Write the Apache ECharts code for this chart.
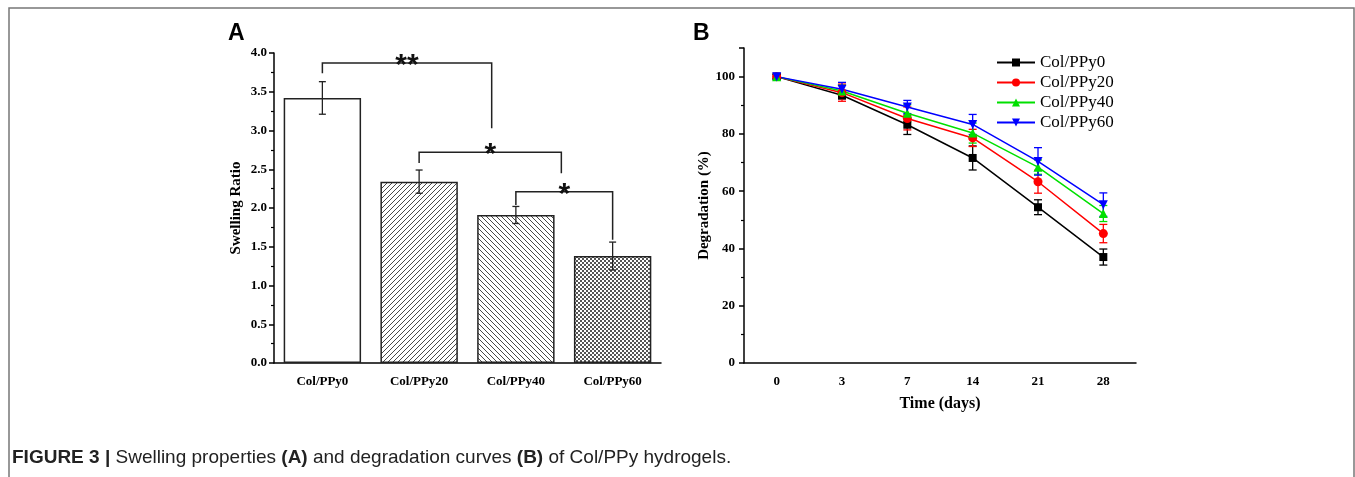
<!DOCTYPE html>
<html>
<head>
<meta charset="utf-8">
<script src="https://cdn.jsdelivr.net/npm/echarts@6/dist/echarts.min.js"></script>
<style>
  html, body { margin: 0; padding: 0; background: #fff; }
  #demo { width: 1355px; height: 477px; }
</style>
</head>
<body>
<div id="demo"></div>
<script>
// panel A: swelling ratio
var groups = ['Col/PPy0', 'Col/PPy20', 'Col/PPy40', 'Col/PPy60'];
var swelling = [3.42, 2.34, 1.91, 1.38];
var swellingErr = [0.21, 0.15, 0.11, 0.18];

// significance brackets: from/to category, bar level, left/right leg ends
var sigFrom = [0, 1, 2];
var sigTo = [1.75, 2.47, 3];
var sigLevel = [3.87, 2.72, 2.21];
var sigLeftEnd = [3.74, 2.58, 2.04];
var sigRightEnd = [3.03, 2.45, 1.59];
var sigText = ['**', '*', '*'];

// panel B: degradation
var days = ['0', '3', '7', '14', '21', '28'];
var names = ['Col/PPy0', 'Col/PPy20', 'Col/PPy40', 'Col/PPy60'];
var ppy0 = [100, 93.5, 83.2, 71.6, 54.4, 37.0];
var ppy0Err = [0.8, 1.3, 3.4, 4.2, 2.6, 2.8];
var ppy20 = [100, 94.4, 85.4, 78.6, 63.3, 45.2];
var ppy20Err = [0.8, 3.0, 4.0, 3.0, 4.0, 3.2];
var ppy40 = [100, 95.0, 87.2, 80.3, 68.4, 52.2];
var ppy40Err = [0.8, 2.0, 3.0, 3.5, 2.5, 2.8];
var ppy60 = [100, 95.6, 89.4, 83.3, 70.4, 55.3];
var ppy60Err = [0.8, 2.4, 2.3, 3.5, 4.8, 4.1];

var colors = ['#000000', '#ff0000', '#00e000', '#0000ff'];
var symbols = ['rect', 'circle', 'triangle', 'triangle'];
var rotates = [0, 0, 0, 180];

var serif = '"Liberation Serif", "Times New Roman", serif';
var sans = '"Liberation Sans", Arial, sans-serif';

// hatch patterns for the bars
function makePattern(kind) {
    var c = document.createElement('canvas');
    var s = kind == 'check' ? 4 : 5;
    c.width = s; c.height = s;
    var g = c.getContext('2d');
    g.fillStyle = '#fff';
    g.fillRect(0, 0, s, s);
    if (kind == 'check') {
        g.fillStyle = '#555';
        g.fillRect(0, 0, 2, 2);
        g.fillRect(2, 2, 2, 2);
        return c;
    }
    g.strokeStyle = '#333';
    g.lineWidth = 0.9;
    g.beginPath();
    if (kind == 'fwd') {
        g.moveTo(-1, s + 1); g.lineTo(s + 1, -1);
        g.moveTo(-1, 1); g.lineTo(1, -1);
        g.moveTo(s - 1, s + 1); g.lineTo(s + 1, s - 1);
    } else {
        g.moveTo(-1, -1); g.lineTo(s + 1, s + 1);
        g.moveTo(s - 1, -1); g.lineTo(s + 1, 1);
        g.moveTo(-1, s - 1); g.lineTo(1, s + 1);
    }
    g.stroke();
    return c;
}
var fills = ['#ffffff', {image: makePattern('fwd'), repeat: 'repeat'},
             {image: makePattern('back'), repeat: 'repeat'},
             {image: makePattern('check'), repeat: 'repeat'}];

function errRender(color, capW) {
    return function (params, api) {
        var x = api.value(0);
        var lo = api.coord([x, api.value(1)]);
        var hi = api.coord([x, api.value(2)]);
        var st = {stroke: color, lineWidth: 1.3};
        return {type: 'group', children: [
            {type: 'line', shape: {x1: hi[0], y1: hi[1], x2: lo[0], y2: lo[1]}, style: st},
            {type: 'line', shape: {x1: hi[0] - capW, y1: hi[1], x2: hi[0] + capW, y2: hi[1]}, style: st},
            {type: 'line', shape: {x1: lo[0] - capW, y1: lo[1], x2: lo[0] + capW, y2: lo[1]}, style: st}
        ]};
    };
}
function errData(vals, errs) {
    return vals.map(function (v, i) { return [i, v - errs[i], v + errs[i]]; });
}

var axisLine = {lineStyle: {color: '#000', width: 1.5}};
var tickLabel = {color: '#000', fontFamily: serif, fontWeight: 'bold', fontSize: 13};

var myChart = echarts.init(document.getElementById('demo'));

var degr = [ppy0, ppy20, ppy40, ppy60];
var degrErr = [ppy0Err, ppy20Err, ppy40Err, ppy60Err];

var series = [
    {
        type: 'bar', xAxisIndex: 0, yAxisIndex: 0, barWidth: '80%',
        data: swelling.map(function (v, i) {
            return {value: v, itemStyle: {color: fills[i]}};
        }),
        itemStyle: {borderColor: '#222', borderWidth: 1.5},
        silent: true
    },
    {
        type: 'custom', xAxisIndex: 0, yAxisIndex: 0,
        renderItem: errRender('#222', 3.5),
        data: errData(swelling, swellingErr), z: 5
    }
];
degr.forEach(function (d, k) {
    series.push({
        type: 'custom', xAxisIndex: 2, yAxisIndex: 1,
        renderItem: errRender(colors[k], 4),
        data: errData(d, degrErr[k]), z: 3
    });
});
degr.forEach(function (d, k) {
    series.push({
        name: names[k], type: 'line', xAxisIndex: 2, yAxisIndex: 1,
        data: d, symbol: symbols[k], symbolRotate: rotates[k],
        symbolSize: k == 0 ? 8 : 9, showSymbol: true,
        lineStyle: {color: colors[k], width: 1.5},
        itemStyle: {color: colors[k]},
        z: 4
    });
});

var option = {
    animation: false,
    grid: [
        {left: 274, top: 53, width: 387, height: 310},
        {left: 744, top: 48, width: 392, height: 315}
    ],
    legend: {
        data: names, orient: 'vertical', left: 991, top: 49,
        itemWidth: 38, itemHeight: 10, itemGap: 3,
        textStyle: {fontFamily: serif, fontSize: 17, color: '#000'}
    },
    xAxis: [
        {
            type: 'category', gridIndex: 0, data: groups,
            axisLine: axisLine,
            axisTick: {alignWithLabel: true, length: 5, lineStyle: {color: '#000', width: 1.5}},
            axisLabel: Object.assign({margin: 12}, tickLabel)
        },
        {
            type: 'category', gridIndex: 0, data: groups, position: 'bottom',
            axisLine: {show: false}, axisLabel: {show: false},
            axisTick: {length: 3, lineStyle: {color: '#000', width: 1.2}}
        },
        {
            type: 'category', gridIndex: 1, data: days,
            axisLine: axisLine,
            axisTick: {alignWithLabel: true, length: 5, lineStyle: {color: '#000', width: 1.5}},
            axisLabel: Object.assign({margin: 12}, tickLabel),
            name: 'Time (days)', nameLocation: 'middle', nameGap: 33,
            nameTextStyle: {fontFamily: serif, fontWeight: 'bold', fontSize: 16, color: '#000'}
        },
        {
            type: 'category', gridIndex: 1, data: days, position: 'bottom',
            axisLine: {show: false}, axisLabel: {show: false},
            axisTick: {length: 3, lineStyle: {color: '#000', width: 1.2}}
        }
    ],
    yAxis: [
        {
            type: 'value', gridIndex: 0, min: 0, max: 4, interval: 0.5,
            axisLine: {show: true, lineStyle: {color: '#000', width: 1.5}},
            axisTick: {show: true, length: 5, lineStyle: {color: '#000', width: 1.5}},
            minorTick: {show: true, splitNumber: 2, length: 3, lineStyle: {color: '#000', width: 1.2}},
            splitLine: {show: false},
            axisLabel: Object.assign({margin: 7, formatter: function (v) { return v.toFixed(1); }}, tickLabel),
            name: 'Swelling Ratio', nameLocation: 'middle', nameGap: 30,
            nameTextStyle: {fontFamily: serif, fontWeight: 'bold', fontSize: 15, color: '#000'}
        },
        {
            type: 'value', gridIndex: 1, min: 0, max: 110, interval: 20,
            axisLine: {show: true, lineStyle: {color: '#000', width: 1.5}},
            axisTick: {show: true, length: 5, lineStyle: {color: '#000', width: 1.5}},
            minorTick: {show: true, splitNumber: 2, length: 3, lineStyle: {color: '#000', width: 1.2}},
            splitLine: {show: false},
            axisLabel: Object.assign({margin: 9, formatter: function (v) { return v > 100 ? '' : v; }}, tickLabel),
            name: 'Degradation (%)', nameLocation: 'middle', nameGap: 31,
            nameTextStyle: {fontFamily: serif, fontWeight: 'bold', fontSize: 15, color: '#000'}
        }
    ],
    series: series
};
myChart.setOption(option);

// frame, panel letters, caption, significance brackets
function px(idx, val) {
    var a = myChart.convertToPixel({xAxisIndex: 0, yAxisIndex: 0}, [Math.floor(idx), val]);
    var b = myChart.convertToPixel({xAxisIndex: 0, yAxisIndex: 0}, [Math.floor(idx) + 1, val]);
    var f = idx - Math.floor(idx);
    return [a[0] + (b[0] - a[0]) * f, a[1]];
}
var graphics = [
    {type: 'rect', shape: {x: 9, y: 8, width: 1345, height: 520},
     style: {fill: null, stroke: '#777', lineWidth: 1.5}, silent: true},
    {type: 'text', x: 228, y: 22, style: {text: 'A', font: 'bold 23px ' + sans, fill: '#000'}},
    {type: 'text', x: 693, y: 22, style: {text: 'B', font: 'bold 23px ' + sans, fill: '#000'}},
    {type: 'text', x: 12, y: 448, style: {
        text: '{b|FIGURE 3 |} Swelling properties {b|(A)} and degradation curves {b|(B)} of Col/PPy hydrogels.',
        font: '19px ' + sans, fill: '#222',
        rich: {b: {fontWeight: 'bold', fontSize: 19, fontFamily: sans, fill: '#222'}}
    }}
];
for (var i = 0; i < sigText.length; i++) {
    var l0 = px(sigFrom[i], sigLevel[i]);
    var r0 = px(sigTo[i], sigLevel[i]);
    var l1 = px(sigFrom[i], sigLeftEnd[i]);
    var r1 = px(sigTo[i], sigRightEnd[i]);
    graphics.push({type: 'polyline', shape: {points: [l1, l0, r0, r1]},
        style: {stroke: '#222', lineWidth: 1.5, fill: null}});
    graphics.push({type: 'text', x: (l0[0] + r0[0]) / 2, y: l0[1] + 3,
        style: {text: sigText[i], font: 'bold 30px ' + sans, fill: '#111',
                align: 'center', verticalAlign: 'middle'}});
}
myChart.setOption({graphic: graphics});
</script>
</body>
</html>
